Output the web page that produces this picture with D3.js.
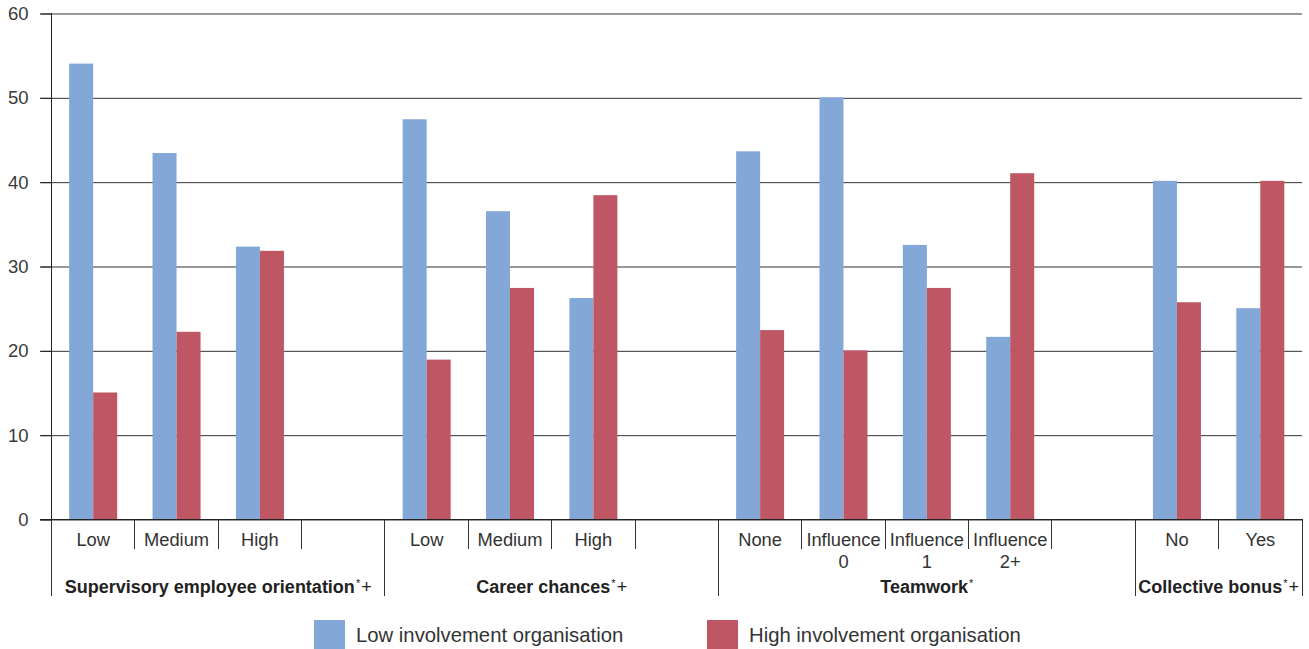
<!DOCTYPE html>
<html><head><meta charset="utf-8">
<script src="https://cdn.jsdelivr.net/npm/d3@7"></script>
<style>body{margin:0;background:#fff}svg{display:block}</style>
</head><body><svg id="c" width="1309" height="649"></svg>
<script>
// ---- data ----
const categories = ["Low","Medium","High","","Low","Medium","High","","None","Influence\n0","Influence\n1","Influence\n2+","","No","Yes"];
const lowInvolvement  = [54, 43.4, 32.3, null, 47.4, 36.5, 26.2, null, 43.6, 50, 32.5, 21.6, null, 40.1, 25];
const highInvolvement = [15, 22.2, 31.8, null, 18.9, 27.4, 38.4, null, 22.4, 20, 27.4, 41, null, 25.7, 40.1];
const groupNames = ["Supervisory employee orientation","Career chances","Teamwork","Collective bonus"];
const groupMarks = ["+","+","","+"];
const groupSizes = [4,4,5,2];
const seriesNames = ["Low involvement organisation","High involvement organisation"];
const yTicks = [0,10,20,30,40,50,60];

(function () {
// ---- styles ----
const colors = ["#83a8d7","#be5663"];
const font = "'Liberation Sans', Arial, Helvetica, sans-serif";
const pLeft = 51.5, pRight = 1302, pTop = 13, pBottom = 519;

const svg = d3.select("#c").style("font-family", font);

const x = d3.scaleBand().domain(d3.range(categories.length)).range([pLeft, pRight]).paddingInner(0).paddingOuter(0);
const xs = d3.scaleBand().domain([0,1]).range([0, x.bandwidth()]).paddingInner(0).paddingOuter(0.737);
const y = d3.scaleLinear().domain([0,60]).range([pBottom, pTop]);

// gridlines
const grid = svg.append("g").attr("transform", `translate(40,0.5)`)
  .call(d3.axisRight(y).tickValues(yTicks).tickSize(pRight - 40).tickFormat(""));
grid.select(".domain").remove();
grid.selectAll(".tick line").attr("stroke", "#333").attr("stroke-width", 1);

// bars
const series = [lowInvolvement, highInvolvement];
series.forEach((vals, s) => {
  svg.append("g").selectAll("rect")
    .data(vals.map((v, i) => ({v, i})).filter(d => d.v != null))
    .join("rect")
    .attr("x", d => x(d.i) + xs(s))
    .attr("width", xs.bandwidth())
    .attr("y", d => y(d.v))
    .attr("height", d => y(0) - y(d.v))
    .attr("fill", colors[s]);
});

// baseline
svg.append("line").attr("x1", 40).attr("x2", pRight).attr("y1", y(0) + 0.5).attr("y2", y(0) + 0.5)
  .attr("stroke", "#222");

// y axis
const yAxis = svg.append("g").attr("transform", `translate(${pLeft},0.5)`)
  .call(d3.axisLeft(y).tickValues(yTicks).tickSize(11).tickPadding(12));
yAxis.select(".domain").remove();
yAxis.selectAll(".tick line").attr("stroke", "#222");
yAxis.selectAll(".tick text").attr("font-size", 18.5).attr("fill", "#3a3a3a").attr("font-family", font);
svg.append("line").attr("x1", pLeft).attr("x2", pLeft).attr("y1", pTop).attr("y2", pBottom + 1).attr("stroke", "#222");

// category separators
const groupEdges = [0];
groupSizes.forEach(n => groupEdges.push(groupEdges[groupEdges.length - 1] + n));
const edgeX = i => i >= categories.length ? pRight : x(i);
d3.range(categories.length + 1).forEach(i => {
  const isGroup = groupEdges.includes(i);
  const xx = Math.round(edgeX(i) - 0.5) + 0.5;
  svg.append("line").attr("x1", xx).attr("x2", xx)
    .attr("y1", pBottom).attr("y2", isGroup ? 596 : 549)
    .attr("stroke", "#333");
});

// category labels
categories.forEach((c, i) => {
  const lines = c.split("\n");
  const t = svg.append("text").attr("text-anchor", "middle")
    .attr("font-size", 18.3).attr("fill", "#333");
  lines.forEach((ln, k) => {
    t.append("tspan").attr("x", x(i) + x.bandwidth() / 2).attr("y", 546 + k * 22).text(ln);
  });
});

// group labels
groupNames.forEach((g, k) => {
  const x0 = edgeX(groupEdges[k]), x1 = edgeX(groupEdges[k + 1]);
  const t = svg.append("text").attr("x", (x0 + x1) / 2).attr("y", 593)
    .attr("text-anchor", "middle").attr("font-size", 18).attr("fill", "#222");
  t.append("tspan").attr("font-weight", "bold").text(g);
  t.append("tspan").attr("font-size", 11).attr("dx", 1).attr("dy", -6).text("*");
  if (groupMarks[k]) t.append("tspan").attr("font-size", 18).attr("dx", 1).attr("dy", 6).text(groupMarks[k]);
});

// legend
const legendX = [314, 707];
seriesNames.forEach((n, s) => {
  svg.append("rect").attr("x", legendX[s]).attr("y", 620).attr("width", 31).attr("height", 31).attr("fill", colors[s]);
  svg.append("text").attr("x", legendX[s] + 42).attr("y", 641.5).attr("font-size", 20.3).attr("fill", "#333").text(n);
});
})();
</script>
</body></html>
